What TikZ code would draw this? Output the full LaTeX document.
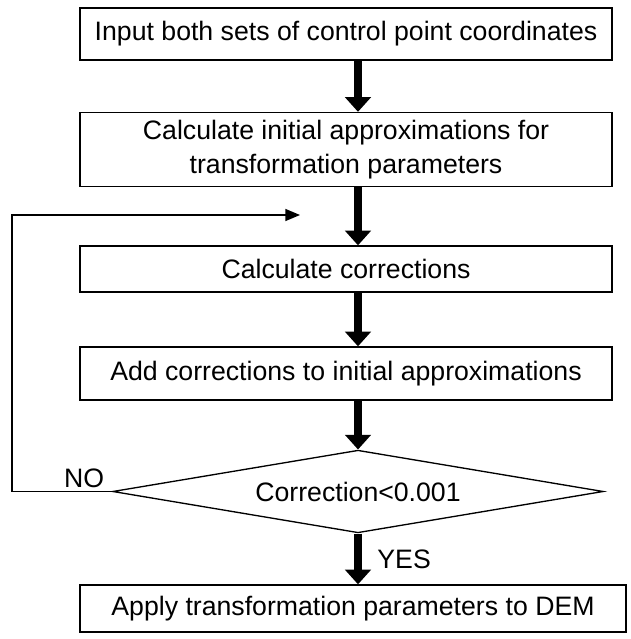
\documentclass[tikz,border=0pt]{standalone}
\usepackage{fontspec}
\setmainfont{Liberation Sans}
\usetikzlibrary{shapes.geometric,arrows.meta}
\begin{document}
\begin{tikzpicture}[x=0.75pt,y=-0.75pt]
	\tikzstyle{process} = [draw=black, line width=1pt, inner sep=0pt, minimum width=399pt, align=center, font=\fontsize{20}{26}\selectfont]
	\tikzstyle{decision} = [draw=black, line width=1pt, diamond, aspect=9, inner sep=0pt, minimum width=368pt, minimum height=62pt, font=\fontsize{20}{26}\selectfont]
	\tikzstyle{bigarrow} = [line width=6.5pt, -{Triangle[width=19pt,length=11pt]}]
	\tikzstyle{thinarrow} = [line width=1pt, -{Triangle[width=9pt,length=11pt]}]

	\useasboundingbox (0,0) rectangle (631,639);

%------------------------------------------------------------
	\node[process, minimum height=39pt] (input) at (346,34) {Input both sets of control point coordinates};
	\node[process, minimum height=55.5pt] (initial) at (346,149.5) {Calculate initial approximations for\\transformation parameters};
	\node[process, minimum height=34.5pt] (corr) at (346,269) {Calculate corrections};
	\node[process, minimum height=39.75pt] (add) at (346,373.5) {Add corrections to initial approximations};

%------------------------------------------------------------
	\node[decision] (test) at (358,491.5) {Correction<0.001};
	\node[process, minimum width=409.5pt, minimum height=35.25pt] (apply) at (353,608.5) {Apply transformation parameters to DEM};

%------------------------------------------------------------
	\draw[bigarrow] (input.south -| test.north) -- (initial.north -| test.north);
	\draw[bigarrow] (initial.south -| test.north) -- (corr.north -| test.north);
	\draw[bigarrow] (corr.south -| test.north) -- (add.north -| test.north);
	\draw[bigarrow] (add.south -| test.north) -- (test.north);
	\draw[bigarrow] (test.south) -- node[right=8pt, font=\fontsize{20}{26}\selectfont]{YES} (apply.north -| test.south);

%------------------------------------------------------------
	\coordinate (back) at (300,215);
	\draw[thinarrow] (test.west) -- node[above=-1pt, pos=0.28, font=\fontsize{20}{26}\selectfont]{NO} (12,491.5) |- (back);

\end{tikzpicture}
\end{document}
